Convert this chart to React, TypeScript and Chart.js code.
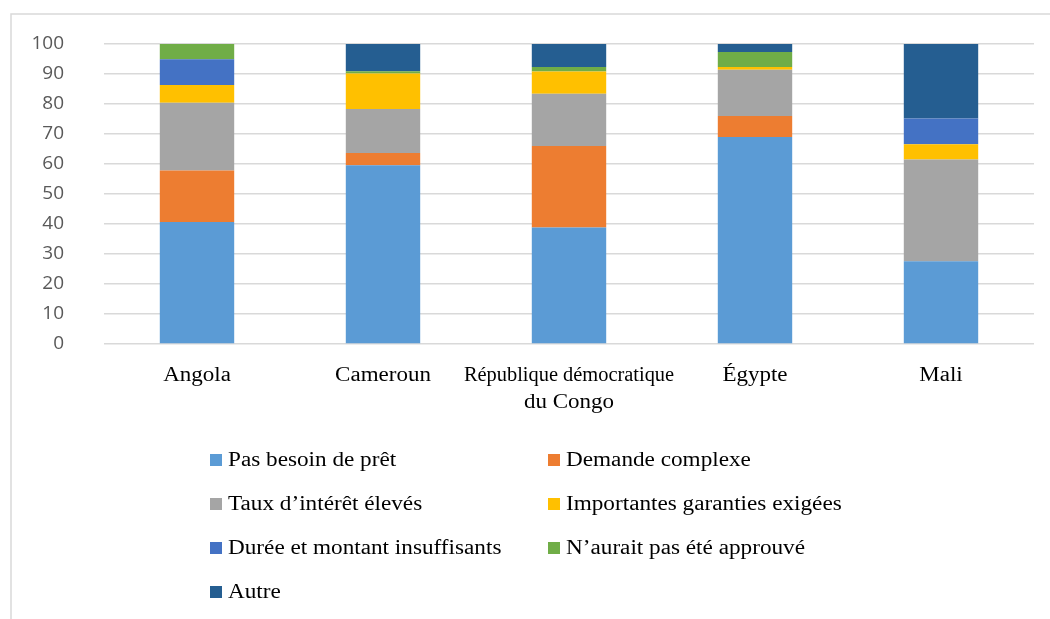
import React, { useEffect, useRef } from "react";
import { Chart, registerables } from "chart.js";

Chart.register(...registerables);

const categories: (string | string[])[] = [
  "Angola",
  "Cameroun",
  ["République démocratique", "du Congo"],
  "Égypte",
  "Mali",
];

const seriesNames = [
  "Pas besoin de prêt",
  "Demande complexe",
  "Taux d’intérêt élevés",
  "Importantes garanties exigées",
  "Durée et montant insuffisants",
  "N’aurait pas été approuvé",
  "Autre",
];

const seriesColors = ["#5B9BD5", "#ED7D31", "#A5A5A5", "#FFC000", "#4472C4", "#70AD47", "#255E91"];

const pasBesoin = [40.7, 59.6, 38.8, 69.0, 27.6];
const demandeComplexe = [17.1, 4.1, 27.2, 7.0, 0];
const tauxEleves = [22.6, 14.6, 17.4, 15.4, 33.9];
const garanties = [5.9, 11.9, 7.4, 0.9, 5.1];
const dureeMontant = [8.6, 0, 0, 0, 8.6];
const pasApprouve = [5.1, 0.7, 1.5, 5.0, 0];
const autre = [0, 9.1, 7.7, 2.7, 24.8];

const seriesValues = [pasBesoin, demandeComplexe, tauxEleves, garanties, dureeMontant, pasApprouve, autre];

const yTicks = [0, 10, 20, 30, 40, 50, 60, 70, 80, 90, 100];

const serif = "'Liberation Serif', 'Times New Roman', serif";

function drawStretched(
  ctx: CanvasRenderingContext2D,
  text: string,
  x: number,
  y: number,
  align: "left" | "center",
  sx: number,
  maxWidth?: number
) {
  const w = ctx.measureText(text).width;
  let s = sx;
  if (maxWidth && w * s > maxWidth) s = maxWidth / w;
  const total = w * s;
  const startX = align === "center" ? x - total / 2 : x;
  ctx.save();
  ctx.textAlign = "left";
  ctx.translate(startX, y);
  ctx.scale(s, 1);
  ctx.fillText(text, 0, 0);
  ctx.restore();
}

const frameAndLegend = {
  id: "frameAndLegend",
  beforeDraw(chart: any) {
    const ctx = chart.ctx;
    ctx.save();
    ctx.strokeStyle = "#d9d9d9";
    ctx.lineWidth = 1.5;
    ctx.beginPath();
    ctx.moveTo(11, chart.height);
    ctx.lineTo(11, 14);
    ctx.lineTo(chart.width, 14);
    ctx.stroke();
    ctx.restore();
  },
  afterDraw(chart: any) {
    const ctx = chart.ctx;
    ctx.save();
    ctx.textBaseline = "middle";
    ctx.fillStyle = "#000";

    // category labels
    ctx.font = `20px ${serif}`;
    const xScale = chart.scales.x;
    const lineH = 27;
    const top = chart.chartArea.bottom + 18;
    const spacing = xScale.getPixelForTick(1) - xScale.getPixelForTick(0);
    (chart.data.labels as (string | string[])[]).forEach((lab, i) => {
      const lines = Array.isArray(lab) ? lab : [lab];
      const cx = xScale.getPixelForTick(i);
      lines.forEach((ln, j) => {
        drawStretched(ctx, ln, cx, top + lineH * j + lineH / 2, "center", 1.15, spacing * 1.13);
      });
    });

    // legend
    const colX = [210, 548];
    const rowY0 = 460;
    const rowStep = 44;
    chart.data.datasets.forEach((ds: any, i: number) => {
      const col = i % 2;
      const row = Math.floor(i / 2);
      const x = colX[col];
      const y = rowY0 + row * rowStep;
      ctx.fillStyle = ds.backgroundColor;
      ctx.fillRect(x, y - 6, 12, 12);
      ctx.fillStyle = "#000";
      drawStretched(ctx, ds.label, x + 18, y + 1, "left", 1.16);
    });
    ctx.restore();
  },
};

export default function App() {
  const canvasRef = useRef<HTMLCanvasElement | null>(null);

  useEffect(() => {
    document.body.style.margin = "0";
    const canvas = canvasRef.current;
    if (!canvas) return;
    const chart = new Chart(canvas, {
      type: "bar",
      data: {
        labels: categories,
        datasets: seriesNames.map((name, i) => ({
          label: name,
          data: seriesValues[i],
          backgroundColor: seriesColors[i],
          borderWidth: 0,
          barPercentage: 0.4,
          categoryPercentage: 1,
        })),
      },
      options: {
        responsive: false,
        animation: false,
        layout: { padding: { top: 44, right: 16, left: 0, bottom: 0 } },
        plugins: {
          legend: { display: false },
          tooltip: { enabled: false },
        },
        scales: {
          x: {
            stacked: true,
            grid: { display: false, drawTicks: false },
            border: { display: false },
            ticks: { display: false },
            afterFit(scale: any) {
              scale.height = 275;
            },
          },
          y: {
            stacked: true,
            min: 0,
            max: 100,
            afterBuildTicks(scale: any) {
              scale.ticks = yTicks.map((v) => ({ value: v }));
            },
            grid: { color: "#d9d9d9", lineWidth: 1.5, drawTicks: false },
            border: { display: false },
            ticks: {
              color: "#595959",
              font: { family: "'Open Sans', 'Liberation Sans', sans-serif", size: 19 },
              padding: 40,
            },
            afterFit(scale: any) {
              scale.width = 104;
              scale.paddingTop = 0;
              scale.paddingBottom = 0;
            },
          },
        },
      },
      plugins: [frameAndLegend],
    });
    return () => chart.destroy();
  }, []);

  return (
    <div style={{ width: 1050, height: 619, position: "relative", background: "#fff" }}>
      <canvas ref={canvasRef} width={1050} height={619} style={{ display: "block" }} />
    </div>
  );
}
